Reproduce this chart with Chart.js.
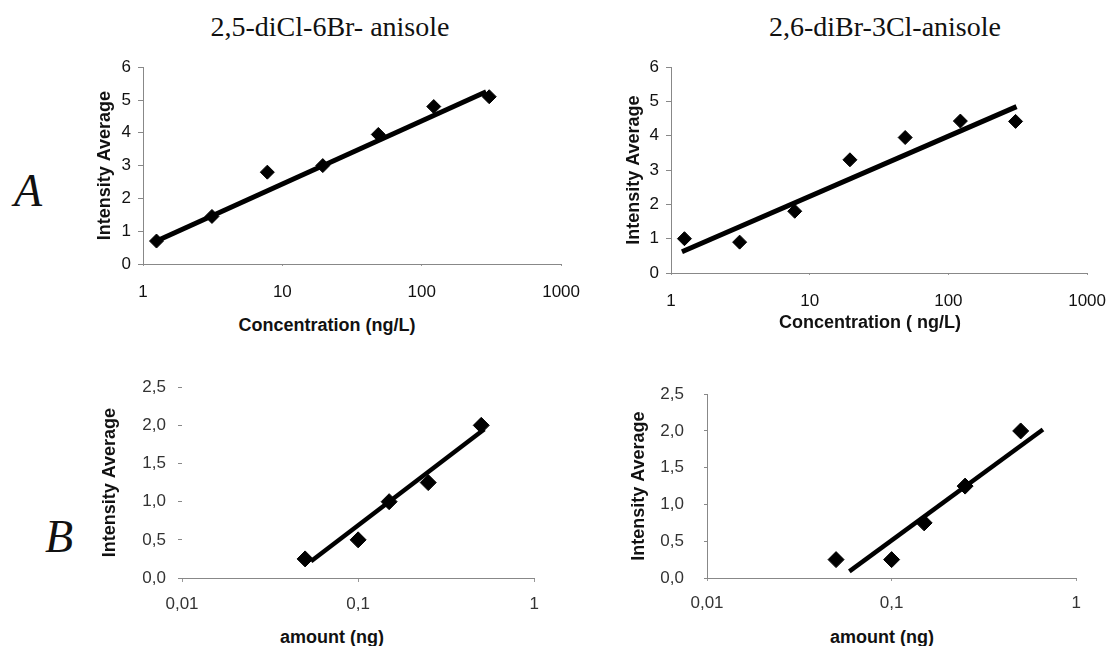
<!DOCTYPE html>
<html>
<head>
<meta charset="utf-8">
<script src="https://cdn.jsdelivr.net/npm/chart.js@4.4.1/dist/chart.umd.min.js"></script>
<style>
  html, body { margin: 0; padding: 0; background: #fff; overflow: hidden; }
  body { width: 1119px; height: 646px; position: relative; }
  canvas { position: absolute; }
  .title { position: absolute; font-family: "Liberation Serif", "Times New Roman", serif; font-size: 28px; line-height: 1; white-space: nowrap; transform: translate(-50%, -50%); color: #111; }
  .panel { position: absolute; font-family: "Liberation Serif", "Times New Roman", serif; font-style: italic; font-size: 46px; line-height: 1; color: #111; }
  .xtitle { position: absolute; font-family: "Liberation Sans", Arial, sans-serif; font-weight: bold; font-size: 18px; line-height: 1; white-space: nowrap; transform: translate(-50%, -50%); color: #111; }
</style>
</head>
<body>
<div class="title" style="left:330px; top:27px;">2,5-diCl-6Br- anisole</div>
<div class="title" style="left:885px; top:27px;">2,6-diBr-3Cl-anisole</div>
<div class="panel" style="left:14px; top:168px;">A</div>
<div class="panel" style="left:45px; top:514px;">B</div>

<canvas id="c1" width="500" height="254" style="left:96px; top:50px;"></canvas>
<canvas id="c2" width="497" height="263" style="left:625px; top:50px;"></canvas>
<canvas id="c3" width="450" height="258" style="left:101px; top:365px;"></canvas>
<canvas id="c4" width="463" height="259" style="left:630px; top:364px;"></canvas>

<div class="xtitle" style="left:327px; top:325px;">Concentration (ng/L)</div>
<div class="xtitle" style="left:870px; top:322px;">Concentration ( ng/L)</div>
<div class="xtitle" style="left:332px; top:637px;">amount (ng)</div>
<div class="xtitle" style="left:882px; top:637px;">amount (ng)</div>

<script>
// --- data ---
const concentration = [1.25, 3.125, 7.8, 19.5, 48.8, 122, 305];
const intensityA1 = [0.7, 1.45, 2.8, 3.0, 3.95, 4.8, 5.1];
const intensityA2 = [1.0, 0.9, 1.8, 3.3, 3.95, 4.43, 4.42];

const amount = [0.05, 0.1, 0.15, 0.25, 0.5];
const intensityB1 = [0.25, 0.5, 1.0, 1.25, 2.0];
const intensityB2 = [0.25, 0.25, 0.75, 1.25, 2.0];

// trend line end points
const trendA1x = [1.25, 290];
const trendA1y = [0.7, 5.25];
const trendA2x = [1.2, 310];
const trendA2y = [0.62, 4.85];
const trendB1x = [0.054, 0.52];
const trendB1y = [0.22, 1.95];
const trendB2x = [0.059, 0.66];
const trendB2y = [0.09, 2.02];

// ticks
const concTicks = [1, 10, 100, 1000];
const concLabels = ["1", "10", "100", "1000"];
const amountTicks = [0.01, 0.1, 1];
const amountLabels = ["0,01", "0,1", "1"];
const yTicksA = [0, 1, 2, 3, 4, 5, 6];
const yLabelsA = ["0", "1", "2", "3", "4", "5", "6"];
const yTicksB = [0, 0.5, 1.0, 1.5, 2.0, 2.5];
const yLabelsB = ["0,0", "0,5", "1,0", "1,5", "2,0", "2,5"];

const sans = '"Liberation Sans", Arial, sans-serif';

function toPoints(xs, ys) {
  return xs.map((x, i) => ({ x: x, y: ys[i] }));
}

function makeChart(id, o) {
  new Chart(document.getElementById(id), {
    type: "scatter",
    data: {
      datasets: [
        {
          data: toPoints(o.x, o.y),
          pointStyle: "rectRot",
          pointRadius: o.r,
          backgroundColor: "#000",
          borderColor: "#000",
          borderWidth: 1,
        },
        {
          type: "line",
          data: toPoints(o.tx, o.ty),
          borderColor: "#000",
          borderWidth: o.lw,
          pointRadius: 0,
          fill: false,
        },
      ],
    },
    options: {
      responsive: false,
      animation: false,
      events: [],
      layout: { padding: { top: o.padTop, right: o.padRight, left: 0, bottom: 0 } },
      plugins: { legend: { display: false }, tooltip: { enabled: false } },
      scales: {
        x: {
          type: "logarithmic",
          min: o.xTicks[0],
          max: o.xTicks[o.xTicks.length - 1],
          afterBuildTicks: (s) => { s.ticks = o.xTicks.map((v) => ({ value: v })); },
          afterFit: (s) => { s.height = o.xH; },
          grid: { drawOnChartArea: false, drawTicks: true, tickLength: o.xTl, color: "#999" },
          border: { display: true, color: "#888", width: 1 },
          ticks: {
            autoSkip: false, maxRotation: 0, padding: o.xPad,
            color: o.tickColor, font: { family: sans, size: 17 },
            callback: (v, i) => o.xLabels[i],
          },
        },
        y: {
          min: o.yTicks[0],
          max: o.yTicks[o.yTicks.length - 1],
          afterBuildTicks: (s) => { s.ticks = o.yTicks.map((v) => ({ value: v })); },
          afterFit: (s) => { s.width = o.yW; },
          grid: { drawOnChartArea: false, drawTicks: true, tickLength: o.yTl, color: "#888" },
          border: { display: o.yBorder, color: "#888", width: 1 },
          ticks: {
            padding: o.yPad, color: o.tickColor, font: { family: sans, size: 17 },
            callback: (v, i) => o.yLabels[i],
          },
          title: {
            display: true, text: "Intensity Average", color: "#111",
            padding: 0, font: { family: sans, size: 18, weight: "bold", lineHeight: 1 },
          },
        },
      },
    },
  });
}

makeChart("c1", {
  x: concentration, y: intensityA1, tx: trendA1x, ty: trendA1y,
  xTicks: concTicks, xLabels: concLabels, yTicks: yTicksA, yLabels: yLabelsA,
  r: 7, lw: 5, padTop: 10, padRight: 25, xH: 40, yW: 47,
  xTl: 2, xPad: 16, yTl: 5, yPad: 7, yBorder: true, tickColor: "#111",
});

makeChart("c2", {
  x: concentration, y: intensityA2, tx: trendA2x, ty: trendA2y,
  xTicks: concTicks, xLabels: concLabels, yTicks: yTicksA, yLabels: yLabelsA,
  r: 7, lw: 5, padTop: 11.5, padRight: 20, xH: 40, yW: 46,
  xTl: 2, xPad: 16, yTl: 5, yPad: 7, yBorder: true, tickColor: "#111",
});

makeChart("c3", {
  x: amount, y: intensityB1, tx: trendB1x, ty: trendB1y,
  xTicks: amountTicks, xLabels: amountLabels, yTicks: yTicksB, yLabels: yLabelsB,
  r: 8, lw: 4.5, padTop: 12, padRight: 15, xH: 45, yW: 81,
  xTl: 4, xPad: 12, yTl: 4, yPad: 12, yBorder: false, tickColor: "#333",
});

makeChart("c4", {
  x: amount, y: intensityB2, tx: trendB2x, ty: trendB2y,
  xTicks: amountTicks, xLabels: amountLabels, yTicks: yTicksB, yLabels: yLabelsB,
  r: 8, lw: 4.5, padTop: 12, padRight: 15, xH: 45, yW: 77,
  xTl: 3, xPad: 12, yTl: 3, yPad: 20, yBorder: true, tickColor: "#333",
});
</script>
</body>
</html>
